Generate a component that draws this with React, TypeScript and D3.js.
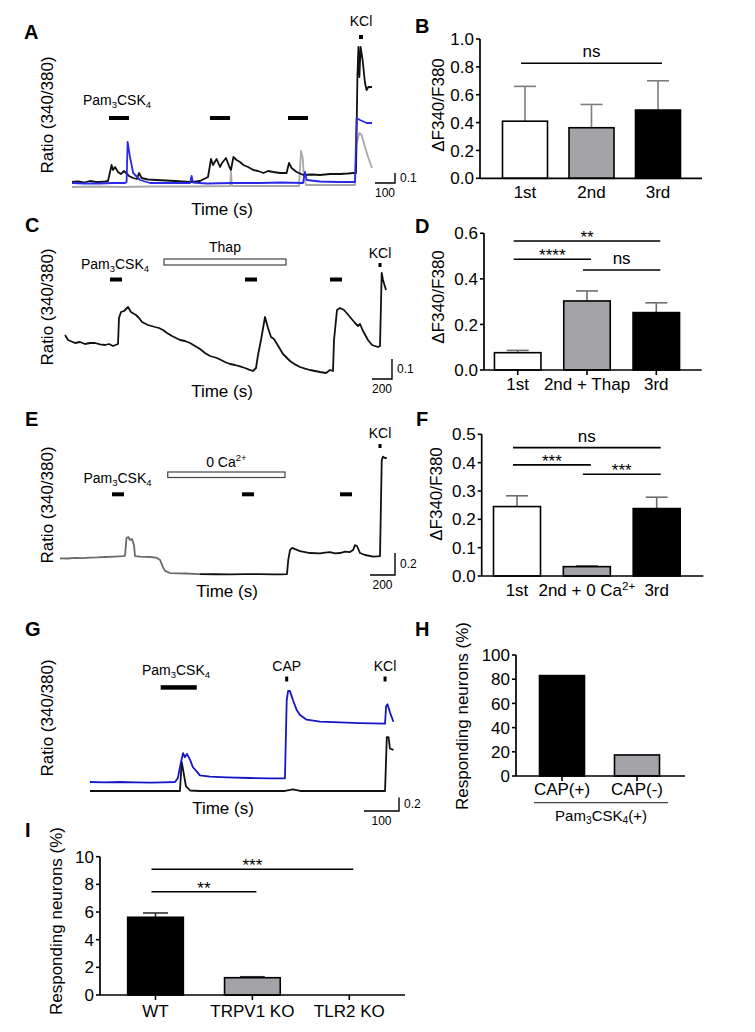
import React from "react";
import * as d3 from "d3";

type Pt = [number, number];

// ---------------- Panel A traces: [time (s), ratio 340/380] ----------------
const traceABlack: Pt[] = [
  [0, 0.58], [30, 0.585], [60, 0.575], [90, 0.59], [120, 0.58], [140, 0.58], [165, 0.585], [180, 0.59],
  [198, 0.75], [205, 0.7], [215, 0.73], [230, 0.68], [245, 0.66], [260, 0.69], [270, 0.67], [285, 0.64],
  [305, 0.62], [325, 0.61], [335, 0.67], [348, 0.62], [380, 0.605], [423, 0.6], [470, 0.595], [515, 0.59],
  [550, 0.585], [590, 0.58], [620, 0.585], [640, 0.59], [680, 0.63], [695, 0.81], [705, 0.75], [723, 0.81],
  [740, 0.73], [750, 0.77], [770, 0.82], [787, 0.73], [795, 0.7], [807, 0.83], [823, 0.8], [840, 0.78],
  [857, 0.75], [880, 0.73], [907, 0.7], [930, 0.69], [957, 0.67], [980, 0.69], [1007, 0.68], [1040, 0.67],
  [1073, 0.67], [1085, 0.77], [1098, 0.72], [1123, 0.68], [1157, 0.65], [1200, 0.655], [1240, 0.65],
  [1290, 0.66], [1340, 0.66], [1380, 0.665], [1407, 0.67], [1420, 0.67], [1427, 1.63], [1432, 1.93],
  [1437, 1.63], [1443, 1.93], [1453, 1.8], [1465, 1.57], [1473, 1.5], [1482, 1.53], [1493, 1.53], [1500, 1.53],
];
const traceABlue: Pt[] = [
  [0, 0.57], [60, 0.565], [140, 0.565], [200, 0.57], [265, 0.57], [273, 0.58], [278, 0.98], [290, 0.83],
  [306, 0.67], [340, 0.6], [390, 0.57], [500, 0.57], [590, 0.57], [598, 0.64], [605, 0.575], [673, 0.565],
  [800, 0.57], [940, 0.57], [1050, 0.575], [1155, 0.57], [1165, 0.68], [1173, 0.6], [1240, 0.585],
  [1330, 0.58], [1415, 0.58], [1423, 1.22], [1440, 1.2], [1473, 1.17], [1500, 1.17],
];
const traceAGray: Pt[] = [
  [0, 0.53], [120, 0.535], [250, 0.53], [390, 0.535], [600, 0.535], [790, 0.54], [795, 0.68], [800, 0.54],
  [950, 0.54], [1135, 0.54], [1145, 0.89], [1153, 0.83], [1160, 0.63], [1170, 0.55], [1300, 0.55],
  [1415, 0.55], [1423, 0.97], [1437, 1.07], [1448, 1.05], [1465, 0.93], [1482, 0.82], [1500, 0.72],
];
const stimAPam: Pt[] = [[185, 285], [690, 790], [1080, 1180]];
const stimAKcl = 1445;

// ---------------- Panel C trace ----------------
const traceC: Pt[] = [
  [0, 1.025], [30, 1.0], [100, 0.985], [150, 0.99], [200, 0.98], [250, 0.985], [300, 0.985], [350, 0.978],
  [400, 0.975], [440, 0.98], [480, 0.97], [530, 0.98], [540, 1.11], [560, 1.14], [590, 1.145], [630, 1.165],
  [660, 1.14], [710, 1.125], [740, 1.11], [770, 1.09], [830, 1.075], [900, 1.065], [940, 1.06], [980, 1.05],
  [1020, 1.035], [1070, 1.02], [1110, 1.01], [1150, 1.0], [1200, 0.995], [1250, 0.985], [1300, 0.97],
  [1350, 0.955], [1400, 0.935], [1450, 0.92], [1520, 0.91], [1560, 0.9], [1600, 0.89], [1650, 0.88],
  [1700, 0.875], [1750, 0.868], [1800, 0.86], [1840, 0.852], [1880, 0.845], [1910, 0.86], [1930, 0.925],
  [1960, 1.0], [2000, 1.115], [2030, 1.06], [2060, 1.015], [2090, 1.005], [2120, 0.98], [2150, 0.955],
  [2180, 0.93], [2250, 0.895], [2300, 0.878], [2350, 0.865], [2400, 0.857], [2450, 0.85], [2500, 0.845],
  [2550, 0.84], [2610, 0.835], [2650, 0.85], [2680, 0.845], [2690, 1.0], [2720, 1.15], [2750, 1.16],
  [2790, 1.15], [2850, 1.115], [2900, 1.085], [2930, 1.07], [2950, 1.08], [2980, 1.045], [3030, 1.0],
  [3070, 0.975], [3130, 0.965], [3150, 0.97], [3167, 1.335], [3180, 1.3], [3210, 1.25],
];
const stimCPam: Pt[] = [[450, 570], [1800, 1920], [2650, 2770]];
const stimCThap: Pt = [990, 2210];
const stimCKcl = 3150;

// ---------------- Panel E trace (gray segment, then black) ----------------
const traceEGray: Pt[] = [
  [0, 0.97], [60, 0.968], [120, 0.973], [180, 0.972], [240, 0.977], [300, 0.978], [360, 0.982],
  [440, 0.986], [504, 0.99], [520, 0.995], [532, 1.155], [546, 1.164], [560, 1.136], [576, 1.145],
  [592, 1.09], [600, 0.99], [640, 0.986], [720, 0.982], [776, 0.973], [800, 0.955], [824, 0.89],
  [840, 0.855], [880, 0.836], [1000, 0.832], [1120, 0.827],
];
const traceEBlack: Pt[] = [
  [1120, 0.827], [1240, 0.825], [1360, 0.823], [1480, 0.826], [1600, 0.827], [1700, 0.824], [1760, 0.823],
  [1816, 0.827], [1826, 0.955], [1840, 1.045], [1856, 1.064], [1920, 1.036], [2000, 1.018], [2080, 1.014],
  [2120, 1.022], [2160, 1.027], [2200, 1.015], [2240, 1.018], [2280, 1.03], [2320, 1.027], [2344, 1.045],
  [2360, 1.09], [2376, 1.082], [2400, 1.018], [2440, 1.0], [2504, 0.985], [2560, 0.99], [2574, 1.864],
  [2584, 1.894], [2600, 1.882], [2614, 1.882],
];
const stimEPam: Pt[] = [[416, 512], [1456, 1552], [2240, 2336]];
const stimECa0: Pt = [862, 1800];
const stimEKcl = 2560;

// ---------------- Panel G traces ----------------
const traceGBlue: Pt[] = [
  [0, 1.0], [40, 0.995], [86, 1.0], [130, 0.995], [171, 0.99], [210, 0.995], [243, 1.0], [251, 1.06],
  [260, 1.3], [266, 1.43], [271, 1.37], [277, 1.42], [286, 1.33], [294, 1.22], [306, 1.15], [314, 1.1],
  [343, 1.08], [391, 1.07], [457, 1.06], [514, 1.055], [557, 1.055], [562, 2.22], [566, 2.36], [571, 2.36],
  [580, 2.22], [591, 2.07], [600, 2.0], [619, 1.93], [657, 1.9], [714, 1.89], [771, 1.88], [843, 1.87],
  [846, 2.13], [850, 2.16], [857, 2.04], [867, 1.9],
];
const traceGBlack: Pt[] = [
  [0, 0.866], [171, 0.866], [257, 0.866], [262, 1.3], [266, 1.18], [274, 0.94], [286, 0.873], [314, 0.866],
  [557, 0.866], [580, 0.89], [600, 0.866], [843, 0.866], [848, 1.67], [853, 1.67], [857, 1.5], [867, 1.48],
];
const stimGPam: Pt = [202, 305];
const stimGCap = 562;
const stimGKcl = 843;

// ---------------- Bar charts ----------------
const catsB = ["1st", "2nd", "3rd"];
const meanB = [0.41, 0.363, 0.49];
const semB = [0.25, 0.167, 0.21];
const ticksB = [0, 0.2, 0.4, 0.6, 0.8, 1.0];

const catsD = ["1st", "2nd + Thap", "3rd"];
const meanD = [0.076, 0.303, 0.252];
const semD = [0.01, 0.044, 0.043];
const ticksD = [0, 0.2, 0.4, 0.6];

const catsF = ["1st", "2nd + 0 Ca2+", "3rd"];
const meanF = [0.245, 0.033, 0.238];
const semF = [0.038, 0.003, 0.04];
const ticksF = [0, 0.1, 0.2, 0.3, 0.4, 0.5];

const catsH = ["CAP(+)", "CAP(-)"];
const valH = [83, 17.4];
const ticksH = [0, 20, 40, 60, 80, 100];

const catsI = ["WT", "TRPV1 KO", "TLR2 KO"];
const meanI = [5.62, 1.25, 0];
const semI = [0.31, 0.07, 0];
const ticksI = [0, 2, 4, 6, 8, 10];

type Sig = { a: number; b: number; label: string; v: number };
const sigB: Sig[] = [{ a: 0, b: 2, label: "ns", v: 0.826 }];
const sigD: Sig[] = [
  { a: 0, b: 2, label: "**", v: 0.566 },
  { a: 0, b: 1, label: "****", v: 0.486 },
  { a: 1, b: 2, label: "ns", v: 0.439 },
];
const sigF: Sig[] = [
  { a: 0, b: 2, label: "ns", v: 0.453 },
  { a: 0, b: 1, label: "***", v: 0.392 },
  { a: 1, b: 2, label: "***", v: 0.359 },
];
const sigI: Sig[] = [
  { a: 0, b: 2, label: "***", v: 9.09 },
  { a: 0, b: 1, label: "**", v: 7.47 },
];

const FONT = '"Liberation Sans", Arial, Helvetica, sans-serif';
const GRAY_FILL = "#a3a3a7";
const FS = 17;

function PamLabel({ x, y, size = 14, suffix = "" }: { x: number; y: number; size?: number; suffix?: string }) {
  const s = size * 0.68;
  return (
    <text x={x} y={y} textAnchor="middle" fontSize={size}>
      Pam
      <tspan fontSize={s} dy={3}>3</tspan>
      <tspan dy={-3}>CSK</tspan>
      <tspan fontSize={s} dy={3}>4</tspan>
      {suffix ? <tspan dy={-3}>{suffix}</tspan> : null}
    </text>
  );
}

function CaText({ text, x, y, size }: { text: string; x: number; y: number; size: number }) {
  if (text.endsWith("2+")) {
    const base = text.slice(0, -2);
    return (
      <text x={x} y={y} textAnchor="middle" fontSize={size}>
        {base}
        <tspan fontSize={size * 0.68} dy={-size * 0.38}>2+</tspan>
      </text>
    );
  }
  return (
    <text x={x} y={y} textAnchor="middle" fontSize={size}>
      {text}
    </text>
  );
}

function ScaleBar({ xs, ys, cx, cy, tLen, rLen, tLabel, rLabel }: any) {
  const w = xs(tLen) - xs(0);
  const r0 = ys.domain()[0];
  const h = ys(r0) - ys(r0 + rLen);
  return (
    <g>
      <path d={`M${cx - w},${cy}H${cx}V${cy - h}`} fill="none" stroke="#000" strokeWidth={1.4} />
      <text x={cx + 5} y={cy - h / 2 + 4} fontSize={12}>{rLabel}</text>
      <text x={cx - w / 2} y={cy + 13.5} textAnchor="middle" fontSize={12}>{tLabel}</text>
    </g>
  );
}

function RotLabel({ x, y, text, size = FS }: { x: number; y: number; text: string; size?: number }) {
  return (
    <text transform={`translate(${x},${y}) rotate(-90)`} textAnchor="middle" dy="0.35em" fontSize={size}>
      {text}
    </text>
  );
}

function Trace({ data, xs, ys, color, width = 1.8 }: any) {
  const line = d3
    .line<Pt>()
    .x((d) => xs(d[0]))
    .y((d) => ys(d[1]));
  return <path d={line(data) || ""} fill="none" stroke={color} strokeWidth={width} strokeLinejoin="round" />;
}

function BarPanel(p: any) {
  const y = d3.scaleLinear().domain([0, p.yMax]).range([p.yB, p.yT]);
  const x = d3.scalePoint<string>().domain(p.cats).range([p.c0, p.c1]);
  const fmt = p.fmt;
  return (
    <g>
      {p.cats.map((c: string, i: number) => {
        const cx = x(c)!;
        const top = y(p.means[i]);
        const hasErr = p.sems && p.sems[i] > 0;
        const et = hasErr ? y(p.means[i] + p.sems[i]) : top;
        return (
          <g key={c}>
            {hasErr && (
              <g stroke={p.errColor} strokeWidth={1.6}>
                <line x1={cx} x2={cx} y1={top} y2={et} />
                <line x1={cx - p.cap / 2} x2={cx + p.cap / 2} y1={et} y2={et} />
              </g>
            )}
            {p.means[i] > 0 && (
              <rect x={cx - p.bw / 2} y={top} width={p.bw} height={p.yB - top} fill={p.fills[i]} stroke="#000" strokeWidth={1.6} />
            )}
            {p.xTicks && <line x1={cx} x2={cx} y1={p.yB} y2={p.yB + 5} stroke="#000" strokeWidth={1.6} />}
            <CaText text={c} x={cx} y={p.catY} size={FS} />
          </g>
        );
      })}
      <line x1={p.x0} x2={p.x0} y1={p.yB} y2={p.yT} stroke="#000" strokeWidth={1.7} />
      <line x1={p.x0} x2={p.x1} y1={p.yB} y2={p.yB} stroke="#000" strokeWidth={1.7} />
      {p.ticks.map((t: number) => (
        <g key={t}>
          <line x1={p.x0 - 4} x2={p.x0} y1={y(t)} y2={y(t)} stroke="#000" strokeWidth={1.6} />
          <text x={p.x0 - 6} y={y(t)} dy="0.36em" textAnchor="end" fontSize={FS}>
            {fmt(t)}
          </text>
        </g>
      ))}
      {(p.sigs || []).map((s: Sig, i: number) => {
        const xa = x(p.cats[s.a])!;
        const xb = x(p.cats[s.b])!;
        const yy = y(s.v);
        const isStar = s.label.includes("*");
        return (
          <g key={i}>
            <line x1={xa - 4} x2={xb + 4} y1={yy} y2={yy} stroke="#000" strokeWidth={1.6} />
            <text x={(xa + xb) / 2} y={isStar ? yy + 2 : yy - 6} textAnchor="middle" fontSize={FS}>
              {s.label}
            </text>
          </g>
        );
      })}
      <RotLabel x={p.labX} y={p.labY} text={p.yLabel} />
    </g>
  );
}

export default function App() {
  // ---- scales for trace panels ----
  const xsA = d3.scaleLinear().domain([0, 1500]).range([72, 372]);
  const ysA = d3.scaleLinear().domain([0.5, 2.0]).range([190, 40]);
  const xsC = d3.scaleLinear().domain([0, 3210]).range([65, 386]);
  const ysC = d3.scaleLinear().domain([0.8, 1.4]).range([380, 260]);
  const xsE = d3.scaleLinear().domain([0, 2614]).range([60, 386.75]);
  const ysE = d3.scaleLinear().domain([0.8, 1.9]).range([577, 456]);
  const xsG = d3.scaleLinear().domain([0, 867]).range([90, 393.45]);
  const ysG = d3.scaleLinear().domain([0.8, 2.4]).range([795.4, 688.2]);

  const f1 = (t: number) => d3.format(".1f")(t);
  const f0 = (t: number) => d3.format("d")(t);

  return (
    <svg
      width={755}
      height={1032}
      viewBox="0 0 755 1032"
      style={{ position: "absolute", left: 0, top: 0, background: "#fff" }}
      fontFamily={FONT}
      fill="#000"
    >
      <rect x={0} y={0} width={755} height={1032} fill="#fff" />
      {/* panel letters */}
      <g fontWeight="bold" fontSize={20}>
        <text x={24} y={39}>A</text>
        <text x={415} y={33}>B</text>
        <text x={25} y={232}>C</text>
        <text x={415} y={233}>D</text>
        <text x={25} y={426}>E</text>
        <text x={416} y={426}>F</text>
        <text x={25} y={636}>G</text>
        <text x={415} y={636}>H</text>
        <text x={25} y={837}>I</text>
      </g>

      {/* ---------------- Panel A ---------------- */}
      <g>
        <Trace data={traceAGray} xs={xsA} ys={ysA} color="#a8a8a8" />
        <Trace data={traceABlack} xs={xsA} ys={ysA} color="#111" />
        <Trace data={traceABlue} xs={xsA} ys={ysA} color="#2a2ae6" />
        {stimAPam.map((s, i) => (
          <rect key={i} x={xsA(s[0])} y={116} width={xsA(s[1]) - xsA(s[0])} height={4} fill="#000" />
        ))}
        <rect x={xsA(stimAKcl) - 2} y={35} width={4} height={4} fill="#000" />
        <text x={xsA(stimAKcl)} y={26} textAnchor="middle" fontSize={14}>KCl</text>
        <PamLabel x={117} y={105} />
        <ScaleBar xs={xsA} ys={ysA} cx={395} cy={183} tLen={100} rLen={0.1} tLabel="100" rLabel="0.1" />
        <text x={222} y={215} textAnchor="middle" fontSize={FS}>Time (s)</text>
        <RotLabel x={47} y={115} text="Ratio (340/380)" />
      </g>

      {/* ---------------- Panel C ---------------- */}
      <g>
        <Trace data={traceC} xs={xsC} ys={ysC} color="#111" />
        {stimCPam.map((s, i) => (
          <rect key={i} x={xsC(s[0])} y={277.5} width={xsC(s[1]) - xsC(s[0])} height={4} fill="#000" />
        ))}
        <rect x={xsC(stimCThap[0])} y={259} width={xsC(stimCThap[1]) - xsC(stimCThap[0])} height={6} fill="#fff" stroke="#444" strokeWidth={1.2} />
        <text x={(xsC(stimCThap[0]) + xsC(stimCThap[1])) / 2} y={252} textAnchor="middle" fontSize={14}>Thap</text>
        <rect x={xsC(stimCKcl) - 1.5} y={263} width={3} height={4} fill="#000" />
        <text x={xsC(stimCKcl)} y={258} textAnchor="middle" fontSize={14}>KCl</text>
        <PamLabel x={115} y={269} />
        <ScaleBar xs={xsC} ys={ysC} cx={392} cy={379} tLen={200} rLen={0.1} tLabel="200" rLabel="0.1" />
        <text x={222} y={397} textAnchor="middle" fontSize={FS}>Time (s)</text>
        <RotLabel x={47} y={307} text="Ratio (340/380)" />
      </g>

      {/* ---------------- Panel E ---------------- */}
      <g>
        <Trace data={traceEGray} xs={xsE} ys={ysE} color="#6a6a6a" />
        <Trace data={traceEBlack} xs={xsE} ys={ysE} color="#111" />
        {stimEPam.map((s, i) => (
          <rect key={i} x={xsE(s[0])} y={492.3} width={xsE(s[1]) - xsE(s[0])} height={4} fill="#000" />
        ))}
        <rect x={xsE(stimECa0[0])} y={472} width={xsE(stimECa0[1]) - xsE(stimECa0[0])} height={5.5} fill="#fff" stroke="#444" strokeWidth={1.2} />
        <CaText text="0 Ca2+" x={(xsE(stimECa0[0]) + xsE(stimECa0[1])) / 2} y={466.5} size={14} />
        <rect x={xsE(stimEKcl) - 1.5} y={444} width={3} height={4} fill="#000" />
        <text x={xsE(stimEKcl)} y={438} textAnchor="middle" fontSize={14}>KCl</text>
        <PamLabel x={117.5} y={483} />
        <ScaleBar xs={xsE} ys={ysE} cx={395} cy={575} tLen={200} rLen={0.2} tLabel="200" rLabel="0.2" />
        <text x={227} y={597} textAnchor="middle" fontSize={FS}>Time (s)</text>
        <RotLabel x={47} y={505} text="Ratio (340/380)" />
      </g>

      {/* ---------------- Panel G ---------------- */}
      <g>
        <Trace data={traceGBlack} xs={xsG} ys={ysG} color="#111" />
        <Trace data={traceGBlue} xs={xsG} ys={ysG} color="#1616c4" />
        <rect x={xsG(stimGPam[0])} y={685.2} width={xsG(stimGPam[1]) - xsG(stimGPam[0])} height={4.5} fill="#000" />
        <rect x={xsG(stimGCap) - 1.5} y={676.5} width={3} height={5} fill="#000" />
        <rect x={xsG(stimGKcl) - 1.5} y={676.5} width={3} height={5} fill="#000" />
        <text x={xsG(stimGCap)} y={670.7} textAnchor="middle" fontSize={14}>CAP</text>
        <text x={xsG(stimGKcl)} y={670.7} textAnchor="middle" fontSize={14}>KCl</text>
        <PamLabel x={176} y={675} />
        <ScaleBar xs={xsG} ys={ysG} cx={399} cy={811} tLen={100} rLen={0.2} tLabel="100" rLabel="0.2" />
        <text x={223} y={814} textAnchor="middle" fontSize={FS}>Time (s)</text>
        <RotLabel x={47} y={718} text="Ratio (340/380)" />
      </g>

      {/* ---------------- Bar panels ---------------- */}
      <BarPanel
        cats={catsB} means={meanB} sems={semB} fills={["#fff", GRAY_FILL, "#000"]}
        yMax={1.0} ticks={ticksB} fmt={f1}
        x0={480} x1={702} yB={178.3} yT={39} c0={525} c1={658} bw={45} cap={22}
        errColor="#7d7d7d" sigs={sigB} yLabel="ΔF340/F380" labX={438} labY={105} catY={198}
      />
      <BarPanel
        cats={catsD} means={meanD} sems={semD} fills={["#fff", GRAY_FILL, "#000"]}
        yMax={0.6} ticks={ticksD} fmt={f1}
        x0={484} x1={701.7} yB={370} yT={233.3} c0={517.7} c1={656.3} bw={46.5} cap={22}
        errColor="#6d6d6d" sigs={sigD} yLabel="ΔF340/F380" labX={438} labY={297} catY={390} xTicks
      />
      <BarPanel
        cats={catsF} means={meanF} sems={semF} fills={["#fff", GRAY_FILL, "#000"]}
        yMax={0.5} ticks={ticksF} fmt={f1}
        x0={481.7} x1={703.3} yB={576} yT={434.3} c0={517} c1={656.7} bw={47} cap={22}
        errColor="#6d6d6d" sigs={sigF} yLabel="ΔF340/F380" labX={436} labY={494} catY={596}
      />
      <BarPanel
        cats={catsH} means={valH} sems={null} fills={["#000", GRAY_FILL]}
        yMax={100} ticks={ticksH} fmt={f0}
        x0={516} x1={685} yB={776} yT={655} c0={562} c1={637} bw={45} cap={0}
        errColor="#000" sigs={[]} yLabel="Responding neurons (%)" labX={462} labY={716} catY={795} xTicks
      />
      <line x1={534} x2={668} y1={802.7} y2={802.7} stroke="#444" strokeWidth={1.3} />
      <PamLabel x={601} y={821} size={15} suffix="(+)" />
      <BarPanel
        cats={catsI} means={meanI} sems={semI} fills={["#000", GRAY_FILL, "#fff"]}
        yMax={10} ticks={ticksI} fmt={f0}
        x0={100} x1={405} yB={995} yT={856.7} c0={155.5} c1={349.3} bw={55.7} cap={25}
        errColor="#333" sigs={sigI} yLabel="Responding neurons (%)" labX={56} labY={921} catY={1017} xTicks
      />
    </svg>
  );
}
